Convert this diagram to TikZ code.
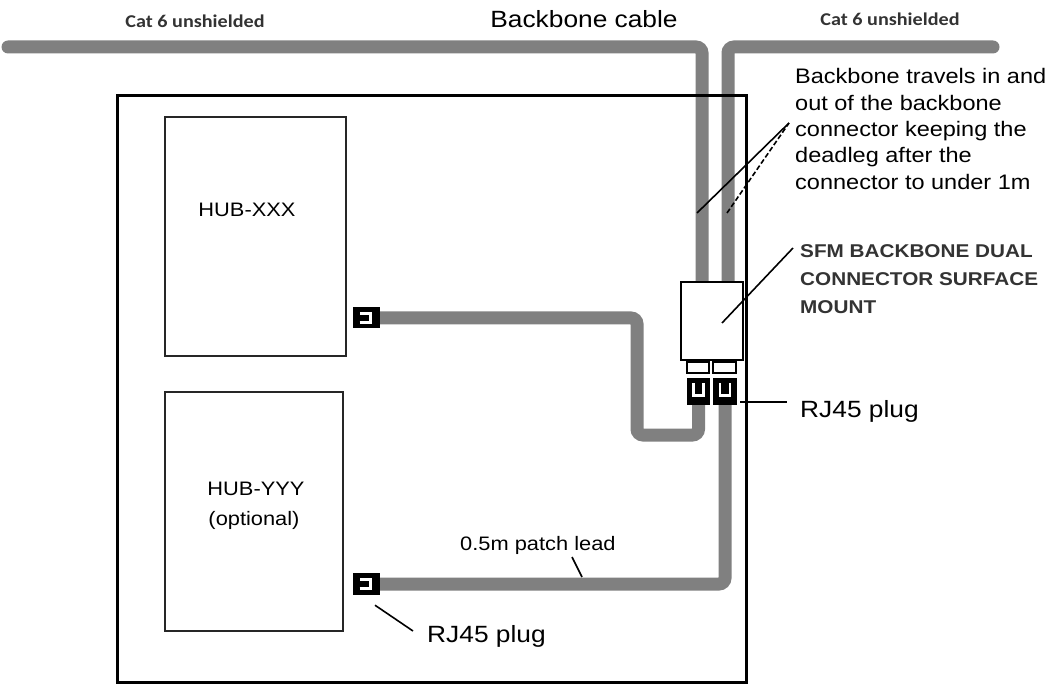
\documentclass[tikz,border=0pt]{standalone}
\usepackage{fontspec}
\setmainfont{Liberation Sans}[FakeStretch=1.12]
\newfontfamily\catfont{Carlito}[FakeStretch=1.12]
\definecolor{cablegray}{HTML}{808080}
\begin{document}
\begin{tikzpicture}[x=1pt,y=-1pt,
  cable/.style={draw=cablegray, line width=13pt, rounded corners=6pt},
  hubbox/.style={draw=black!85, line width=1.6pt, fill=white},
  plug/.style={fill=black, inner sep=0pt, minimum width=#1, minimum height=27pt},
  hplug/.style={fill=black, inner sep=0pt, minimum width=27pt, minimum height=#1},
  slot/.style={draw=black, line width=1.3pt, fill=white, inner sep=0pt, minimum height=11pt, minimum width=#1},
  glyph/.style={draw=white, line width=2.6pt},
  leader/.style={draw=black, line width=1.6pt},
  lbl/.style={inner sep=0pt, text=black}
]
\useasboundingbox (0,0) rectangle (1049,684);

% named free ends
\coordinate (wl) at (8,47);
\coordinate (er) at (993,47);

% connector box
\node[draw=black, line width=1.3pt, fill=white, minimum width=62pt, minimum height=78pt, inner sep=0pt] (box) at (712,321) {};

% backbone cable
\draw[cable, line cap=round] (wl) -| ([xshift=-10pt]box.north);
\draw[cable, line cap=round] (er) -| ([xshift=16pt]box.north);
\node[draw=black, line width=1.3pt, fill=white, minimum width=62pt, minimum height=78pt, inner sep=0pt] at (box) {};

% frame
\draw[line width=3pt] (117,96) rectangle (746,682);

% hubs
\node[hubbox, minimum width=181pt, minimum height=239pt, inner sep=0pt] (hubx) at (255.5,236.5) {};
\node[hubbox, minimum width=178pt, minimum height=239pt, inner sep=0pt] (huby) at (254,511.5) {};
\node[lbl, font=\fontsize{19.5}{24}\selectfont, anchor=base] (hubxt) at (247,217) {HUB-XXX};
\node[lbl, font=\fontsize{19.5}{30}\selectfont, anchor=base] (hubyt) at (256,495) {HUB-YYY};
\node[lbl, font=\fontsize{19.5}{30}\selectfont, anchor=base] (hubyo) at (254,525) {(optional)};

% plugs
\node[plug=23pt] (cp1) at (698.5,391.5) {};
\node[plug=24pt] (cp2) at (725,391.5) {};
\node[slot=22pt] (s1) at (698,367.5) {};
\node[slot=23pt] (s2) at (724.5,367.5) {};
\node[hplug=21pt] (hp1) at (366.5,318) {};
\node[hplug=22pt] (hp2) at (366.5,584) {};

% patch leads
\draw[cable] (cp1.south) |- (637,435) |- (hp1.east);
\draw[cable] (cp2.south) |- (hp2.east);

% plug bodies on top of leads
\node[plug=23pt] at (cp1) {};
\node[plug=24pt] at (cp2) {};
\node[hplug=21pt] at (hp1) {};
\node[hplug=22pt] at (hp2) {};
\draw[glyph] ([xshift=-5pt,yshift=8.5pt]cp1.center) -- ([xshift=-5pt,yshift=-4pt]cp1.center) -- ([xshift=5pt,yshift=-4pt]cp1.center) -- ([xshift=5pt,yshift=8.5pt]cp1.center);
\draw[glyph] ([xshift=-5pt,yshift=8.5pt]cp2.center) -- ([xshift=-5pt,yshift=-4pt]cp2.center) -- ([xshift=5pt,yshift=-4pt]cp2.center) -- ([xshift=5pt,yshift=8.5pt]cp2.center);
\draw[glyph] ([xshift=-7pt,yshift=-4.5pt]hp1.center) -- ([xshift=4pt,yshift=-4.5pt]hp1.center) -- ([xshift=4pt,yshift=4.5pt]hp1.center) -- ([xshift=-7pt,yshift=4.5pt]hp1.center);
\draw[glyph] ([xshift=-7pt,yshift=-4.5pt]hp2.center) -- ([xshift=4pt,yshift=-4.5pt]hp2.center) -- ([xshift=4pt,yshift=4.5pt]hp2.center) -- ([xshift=-7pt,yshift=4.5pt]hp2.center);

% top labels
\node[lbl, font=\fontsize{23.5}{28}\selectfont, anchor=base] (bbc) at (584,28) {Backbone cable};
\node[lbl, font=\catfont\bfseries\fontsize{18}{20}\selectfont, text=black!80, anchor=base] (catl) at (195,28) {Cat 6 unshielded};
\node[lbl, font=\catfont\bfseries\fontsize{18}{20}\selectfont, text=black!80, anchor=base] (catr) at (890,26) {Cat 6 unshielded};

% backbone note
\node[lbl, font=\fontsize{21}{26.3}\selectfont, align=left, anchor=north west] (note) at (795,68.5)
  {Backbone travels in and\\out of the backbone\\connector keeping the\\deadleg after the\\connector to under 1m};
\coordinate (notetip) at (789,123);
\coordinate (bbl) at (697,213);
\coordinate (bbr) at (727,213);
\draw[leader] (bbl) -- (notetip);
\draw[leader, dash pattern=on 5pt off 2.5pt] (bbr) -- (notetip);

% SFM label
\node[lbl, font=\bfseries\fontsize{18.5}{28}\selectfont, text=black!80, align=left, anchor=north west] (sfm) at (800,244.5)
  {SFM BACKBONE DUAL\\CONNECTOR SURFACE\\MOUNT};
\coordinate (sfmtip) at (793,248);
\draw[leader] (722,323) -- (sfmtip);

% RJ45 labels
\node[lbl, font=\fontsize{23.5}{28}\selectfont, anchor=base west] (rjr) at (800,417) {RJ45 plug};
\draw[leader] ([xshift=3pt,yshift=-10.5pt]cp2.east) -- ++(47,0);
\node[lbl, font=\fontsize{23.5}{28}\selectfont, anchor=base west] (rjb) at (427,642) {RJ45 plug};
\coordinate (rjbtip) at (413,631);
\draw[leader] ([xshift=8.5pt,yshift=-10pt]hp2.south) -- (rjbtip);

% patch lead label
\node[lbl, font=\fontsize{19.5}{24}\selectfont, anchor=base west] (patch) at (460,550) {0.5m patch lead};
\coordinate (patchtip) at (572,557);
\draw[leader] (patchtip) -- (582,577);
\end{tikzpicture}
\end{document}
